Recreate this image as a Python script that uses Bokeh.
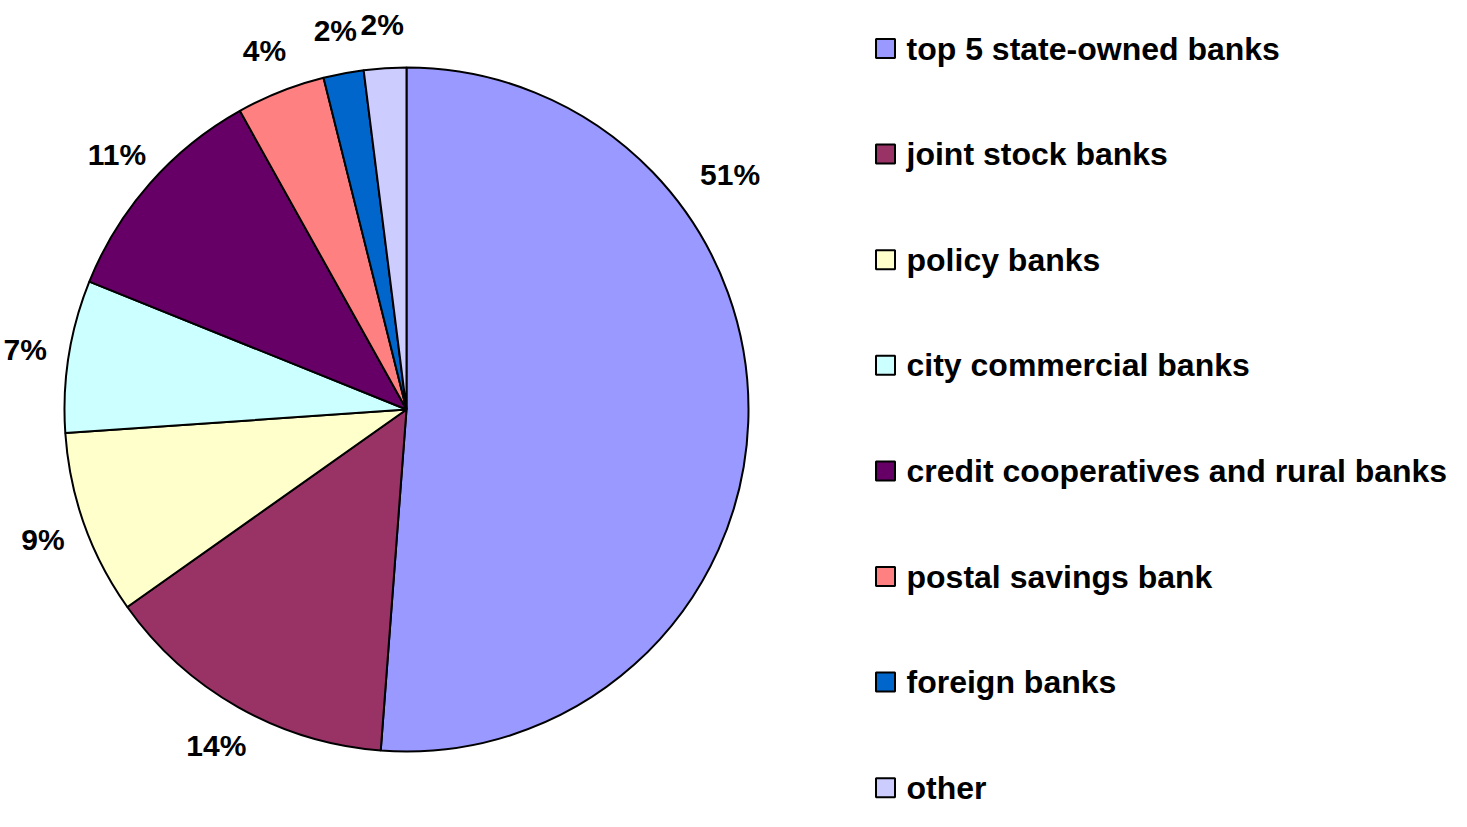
import math
from bokeh.plotting import figure
from bokeh.models import Range1d, ColumnDataSource
from bokeh.core.properties import value
from bokeh.embed import file_html
from bokeh.resources import INLINE

# ---- data ----
categories = [
    "top 5 state-owned banks",
    "joint stock banks",
    "policy banks",
    "city commercial banks",
    "credit cooperatives and rural banks",
    "postal savings bank",
    "foreign banks",
    "other",
]
shares = [51.2, 14.0, 8.7, 7.2, 10.8, 4.2, 1.9, 2.0]
pct_labels = ["51%", "14%", "9%", "7%", "11%", "4%", "2%", "2%"]
colors = ["#9999FF", "#993366", "#FFFFCC", "#CCFFFF",
          "#660066", "#FF8080", "#0066CC", "#CCCCFF"]

# ---- layout ----
W, H = 1451, 811
TOP = 827
def sy(y):  # picture y (px from top) -> data y
    return TOP - y

CX, CY = 406, sy(409)
R = 342
LABEL_R = 386
FONT = value("Liberation Sans")

total = float(sum(shares))
starts, ends, lx, ly = [], [], [], []
cum = 0.0
for i, s in enumerate(shares):
    f0 = cum / total
    f1 = (cum + s) / total
    cum += s
    starts.append(math.pi / 2 - 2 * math.pi * f0)
    ends.append(math.pi / 2 - 2 * math.pi * f1)
    mid = (f0 + f1) / 2
    rr = LABEL_R
    if i == 0:  # the large slice's label sits higher in the original
        mid, rr = 0.15, 400
    a = math.pi / 2 - 2 * math.pi * mid
    lx.append(CX + rr * math.cos(a))
    ly.append(CY + rr * math.sin(a))

src = ColumnDataSource(dict(start=starts, end=ends, color=colors,
                            lx=lx, ly=ly, lab=pct_labels))

p = figure(width=W, height=H, x_range=Range1d(0, W),
           y_range=Range1d(TOP - H, TOP),
           output_backend="svg", toolbar_location=None,
           x_axis_location=None, y_axis_location=None, min_border=0)
p.grid.visible = False
p.outline_line_color = None
p.background_fill_color = "white"

p.wedge(x=CX, y=CY, radius=R, radius_units="screen",
        start_angle="start", end_angle="end", direction="clock",
        fill_color="color", line_color="black", line_width=2, source=src)

p.text(x="lx", y="ly", text="lab", source=src, text_font=FONT,
       text_font_style="bold", text_font_size="30px", text_color="black",
       text_align="center", text_baseline="middle")

# legend
leg_y = [sy(48 + i * 105.6) for i in range(len(categories))]
leg = ColumnDataSource(dict(x=[885] * len(categories), tx=[906] * len(categories),
                            y=leg_y, color=colors, name=categories))
p.scatter(x="x", y="y", source=leg, marker="square", size=19,
          fill_color="color", line_color="black", line_width=2)
p.text(x="tx", y="y", text="name", source=leg, text_font=FONT,
       text_font_style="bold", text_font_size="32px", text_color="black",
       text_align="left", text_baseline="middle")

open("out.html", "w").write(file_html(p, INLINE))
